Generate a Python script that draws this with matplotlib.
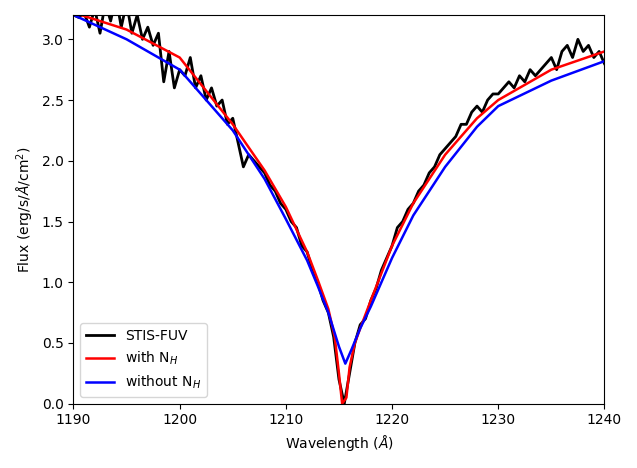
import numpy as np
import matplotlib
matplotlib.use('Agg')
import matplotlib.pyplot as plt

# observed spectrum, sampled every 0.5 A
wave_obs = np.arange(1190, 1240.01, 0.5)
flux_obs = [3.20, 3.18, 3.22, 3.10, 3.25, 3.05, 3.30, 3.15, 3.35, 3.10,
            3.30, 3.05, 3.20, 3.00, 3.10, 2.95, 3.05, 2.65, 2.90, 2.60,
            2.75, 2.70, 2.85, 2.60, 2.70, 2.50, 2.60, 2.45, 2.50, 2.30,
            2.35, 2.15, 1.95, 2.05, 2.00, 1.95, 1.90, 1.80, 1.75, 1.65,
            1.60, 1.50, 1.45, 1.30, 1.25, 1.10, 1.00, 0.85, 0.75, 0.55,
            0.20, 0.00, 0.25, 0.50, 0.65, 0.70, 0.85, 0.95, 1.10, 1.20,
            1.30, 1.45, 1.50, 1.60, 1.65, 1.75, 1.80, 1.90, 1.95, 2.05,
            2.10, 2.15, 2.20, 2.30, 2.30, 2.40, 2.45, 2.40, 2.50, 2.55,
            2.55, 2.60, 2.65, 2.60, 2.70, 2.65, 2.75, 2.70, 2.75, 2.80,
            2.85, 2.75, 2.90, 2.95, 2.85, 3.00, 2.90, 2.95, 2.85, 2.90, 2.80]

wave_red = [1190, 1195, 1200, 1205, 1208, 1210, 1212, 1213, 1214, 1214.6, 1215.0, 1215.3,
            1215.7, 1216.0, 1216.5, 1217, 1218, 1220, 1222, 1225, 1228, 1230, 1235, 1240]
flux_red = [3.22, 3.08, 2.85, 2.30, 1.92, 1.62, 1.25, 1.02, 0.78, 0.55, 0.25, 0.0,
            0.05, 0.30, 0.50, 0.62, 0.85, 1.30, 1.65, 2.05, 2.35, 2.50, 2.75, 2.90]

wave_blue = [1190, 1195, 1200, 1205, 1208, 1210, 1212, 1213, 1214, 1215, 1215.6,
             1216.2, 1217, 1218, 1220, 1222, 1225, 1228, 1230, 1235, 1240]
flux_blue = [3.20, 3.00, 2.75, 2.25, 1.85, 1.52, 1.18, 0.97, 0.75, 0.47, 0.33,
             0.45, 0.62, 0.80, 1.20, 1.55, 1.95, 2.28, 2.45, 2.66, 2.82]


def main():
    fig, ax = plt.subplots(figsize=(6.37, 4.68), dpi=100)
    ax.plot(wave_obs, flux_obs, color='black', lw=2, label='STIS-FUV')
    ax.plot(wave_red, flux_red, color='red', lw=1.8, label='with N$_H$')
    ax.plot(wave_blue, flux_blue, color='blue', lw=1.8, label='without N$_H$')
    ax.set_xlim(1190, 1240)
    ax.set_ylim(0, 3.2)
    ax.set_xlabel('Wavelength ($\\AA$)')
    ax.set_ylabel('Flux (erg/s/$\\AA$/cm$^2$)')
    ax.legend(loc='lower left')
    fig.tight_layout()
    fig.savefig('out.png')


if __name__ == '__main__':
    main()
